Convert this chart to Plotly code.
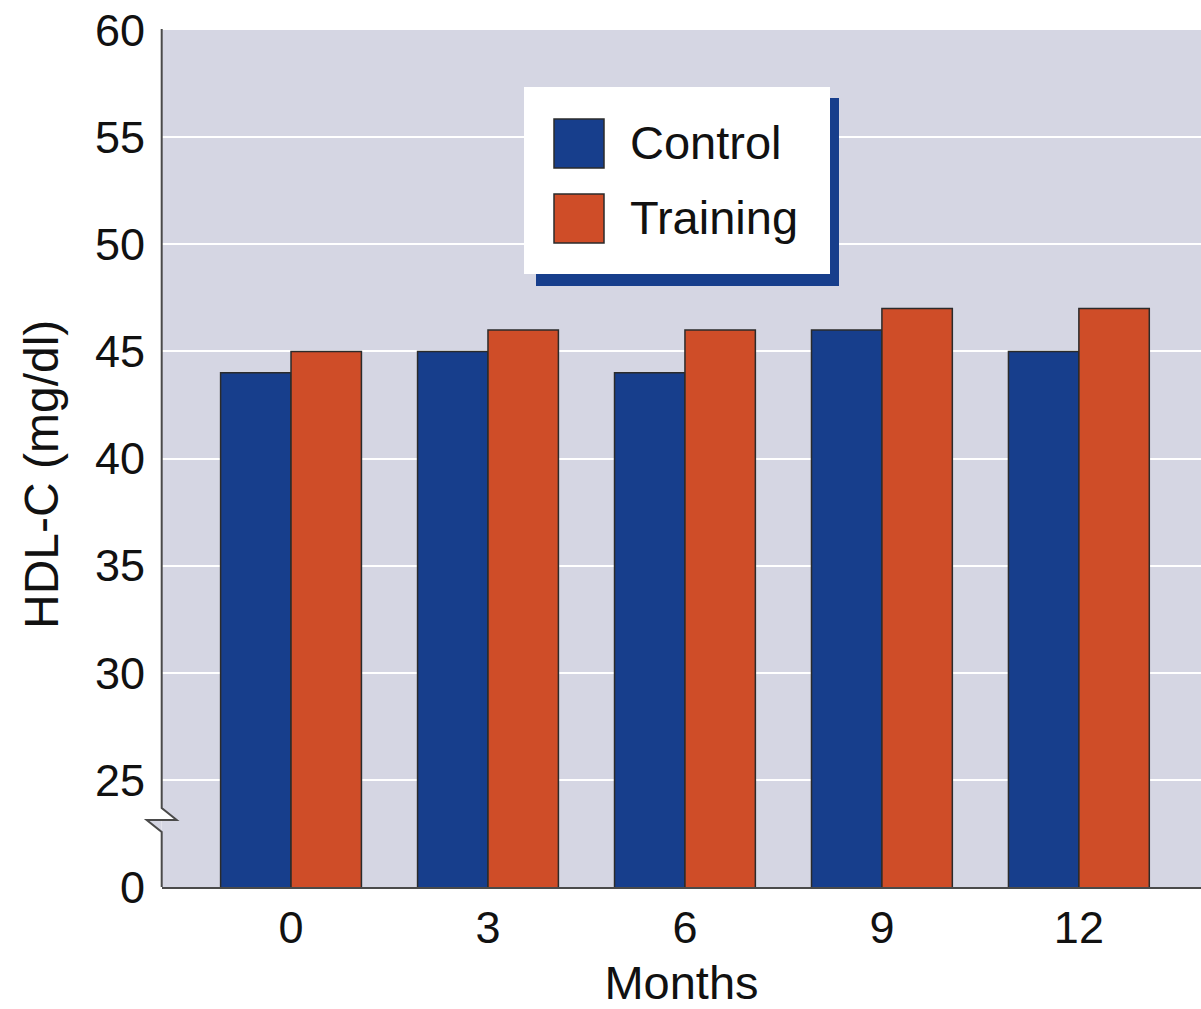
import plotly.graph_objects as go

# HDL-C by month for the two study groups
months = ["0", "3", "6", "9", "12"]
series_names = ["Control", "Training"]
control = [44, 45, 44, 46, 45]
training = [45, 46, 46, 47, 47]

# Axis ticks: the axis is broken below 25, so its bottom (20) is labelled 0
tick_vals = [20, 25, 30, 35, 40, 45, 50, 55, 60]
tick_text = ["0", "25", "30", "35", "40", "45", "50", "55", "60"]

BLUE = "#173e8c"
ORANGE = "#cf4d28"
PLOT_BG = "#d5d6e3"
EDGE = "#2b2b2b"
AXIS = "#4a4a4a"
FONT = "Liberation Sans, Arial, Helvetica, sans-serif"

W, H = 1201, 1009
ML, MR, MT, MB = 162, 0, 30, 122
PW, PH = W - ML - MR, H - MT - MB


def px(x):
    return (x - ML) / PW


def py(y):
    return (H - MB - y) / PH


fig = go.Figure()
for name, vals, col in [(series_names[0], control, BLUE), (series_names[1], training, ORANGE)]:
    fig.add_trace(go.Bar(
        x=months, y=vals, name=name,
        marker=dict(color=col, line=dict(color=EDGE, width=1.5)),
        showlegend=False,
    ))

shapes = []
# left axis with a break mark between 0 and 25
shapes.append(dict(type="path", xref="paper", yref="paper",
                   path=f"M {px(161.7)} {py(808)} L {px(176.7)} {py(820)} L {px(161.7)} {py(820)} Z",
                   fillcolor="white", line=dict(width=0), layer="above"))
shapes.append(dict(type="path", xref="paper", yref="paper",
                   path=f"M {px(146.7)} {py(820)} L {px(161.7)} {py(832)} L {px(161.7)} {py(820)} Z",
                   fillcolor=PLOT_BG, line=dict(width=0), layer="above"))
shapes.append(dict(type="path", xref="paper", yref="paper",
                   path=(f"M {px(161.7)} {py(29)} L {px(161.7)} {py(808)} "
                         f"L {px(176.7)} {py(820)} L {px(146.7)} {py(820)} "
                         f"L {px(161.7)} {py(832)} L {px(161.7)} {py(887)}"),
                   line=dict(color=AXIS, width=2), layer="above"))

# legend box with offset shadow
shapes.append(dict(type="rect", xref="paper", yref="paper",
                   x0=px(536), x1=px(839), y0=py(286), y1=py(98),
                   fillcolor=BLUE, line=dict(width=0), layer="above"))
shapes.append(dict(type="rect", xref="paper", yref="paper",
                   x0=px(524), x1=px(830), y0=py(274), y1=py(87),
                   fillcolor="white", line=dict(width=0), layer="above"))
annotations = []
for i, (name, col) in enumerate([(series_names[0], BLUE), (series_names[1], ORANGE)]):
    top = 119 + i * 75
    shapes.append(dict(type="rect", xref="paper", yref="paper",
                       x0=px(554), x1=px(604), y0=py(top + 49), y1=py(top),
                       fillcolor=col, line=dict(color=EDGE, width=1.5), layer="above"))
    annotations.append(dict(xref="paper", yref="paper", x=px(628), y=py(top + 24),
                            text=name, showarrow=False, xanchor="left", yanchor="middle",
                            font=dict(family=FONT, size=47, color="#111111")))

# y-axis title
annotations.append(dict(xref="paper", yref="paper", x=px(41), y=py(475),
                        text="HDL-C (mg/dl)", textangle=-90, showarrow=False,
                        xanchor="center", yanchor="middle",
                        font=dict(family=FONT, size=48, color="#111111")))

fig.update_layout(
    width=W, height=H,
    margin=dict(l=ML, r=MR, t=MT, b=MB, autoexpand=False),
    paper_bgcolor="white", plot_bgcolor=PLOT_BG,
    barmode="group", bargap=0.285, bargroupgap=0,
    font=dict(family=FONT, size=45, color="#111111"),
    shapes=shapes, annotations=annotations,
    xaxis=dict(type="category", range=[-0.655, 4.62], showgrid=False,
               showline=True, linecolor=AXIS, linewidth=2,
               ticks="", ticklabelstandoff=0, automargin=False,
               title=dict(text="Months", standoff=35, font=dict(size=47))),
    yaxis=dict(range=[20, 60], tickvals=tick_vals, ticktext=tick_text,
               showgrid=True, gridcolor="white", gridwidth=2,
               showline=False, zeroline=False, ticks="", ticklabelstandoff=16,
               automargin=False),
)

fig.write_html("out.html")
